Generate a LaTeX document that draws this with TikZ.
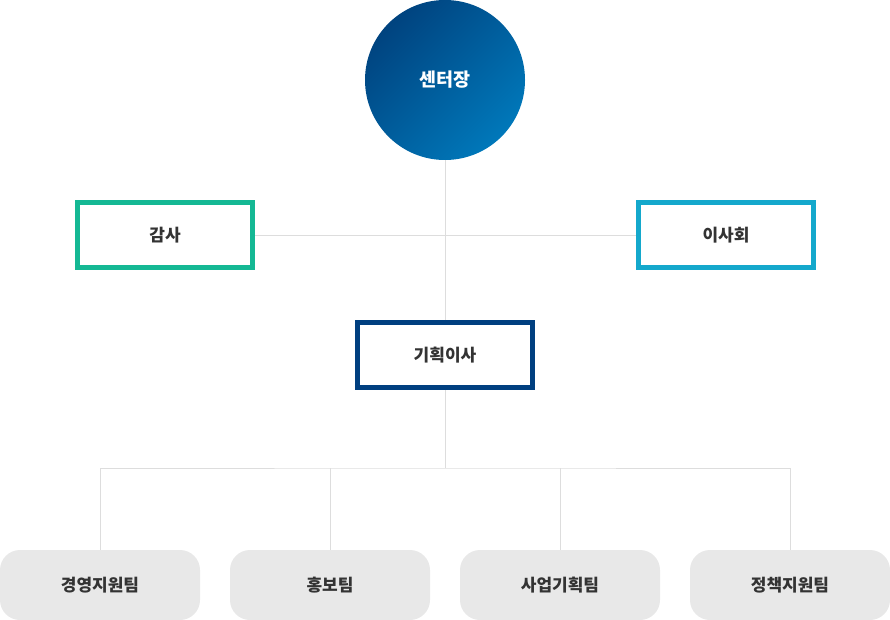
\documentclass[tikz,border=0pt]{standalone}
\usepackage{fontspec}
\setmainfont{Noto Sans CJK KR}
\definecolor{cdark}{HTML}{00437F}
\definecolor{clight}{HTML}{0078BA}
\definecolor{cgreen}{HTML}{14B894}
\definecolor{ccyan}{HTML}{14A8CC}
\definecolor{cnavy}{HTML}{003F80}
\definecolor{cline}{HTML}{DDDDDD}
\definecolor{cgray}{HTML}{E8E8E8}
\definecolor{ctext}{HTML}{333333}
\tikzset{
  framebox/.style={draw=#1, line width=5pt, fill=white, minimum width=175pt, minimum height=65pt, inner sep=0pt, font=\fontsize{17}{19}\selectfont\bfseries, text=ctext},
  teambox/.style={fill=cgray, rounded corners=20pt, minimum width=200pt, minimum height=70pt, inner sep=0pt, font=\fontsize{17}{19}\selectfont\bfseries, text=ctext},
  link/.style={draw=cline, line width=1pt}
}
\begin{document}
\begin{tikzpicture}[x=1pt,y=-1pt]
\useasboundingbox (0,0) rectangle (890,620);
\coordinate (hub) at (445,468);
\node[framebox=cgreen] (gamsa) at (165,235) {감사};
\node[framebox=ccyan] (isa) at (726,235) {이사회};
\node[framebox=cnavy] (gihoek) at (445,355) {기획이사};
\node[teambox] (t1) at (100,585) {경영지원팀};
\node[teambox] (t2) at (330,585) {홍보팀};
\node[teambox] (t3) at (560,585) {사업기획팀};
\node[teambox] (t4) at (790,585) {정책지원팀};
\node[circle, minimum size=160pt, inner sep=0pt, shading=axis, left color=cdark, right color=clight, shading angle=45, text=white, font=\fontsize{18.5}{21}\selectfont\bfseries] (ceo) at (445,80) {센터장};
\draw[link] (ceo.south) -- (gihoek.north);
\draw[link] (gamsa.east) -- (isa.west);
\draw[link] (gihoek.south) -- (hub);
\draw[link] (t1.north) |- (hub) -| (t4.north);
\draw[link] (t2.north) -- (t2.north |- hub);
\draw[link] (t3.north) -- (t3.north |- hub);
\end{tikzpicture}
\end{document}
